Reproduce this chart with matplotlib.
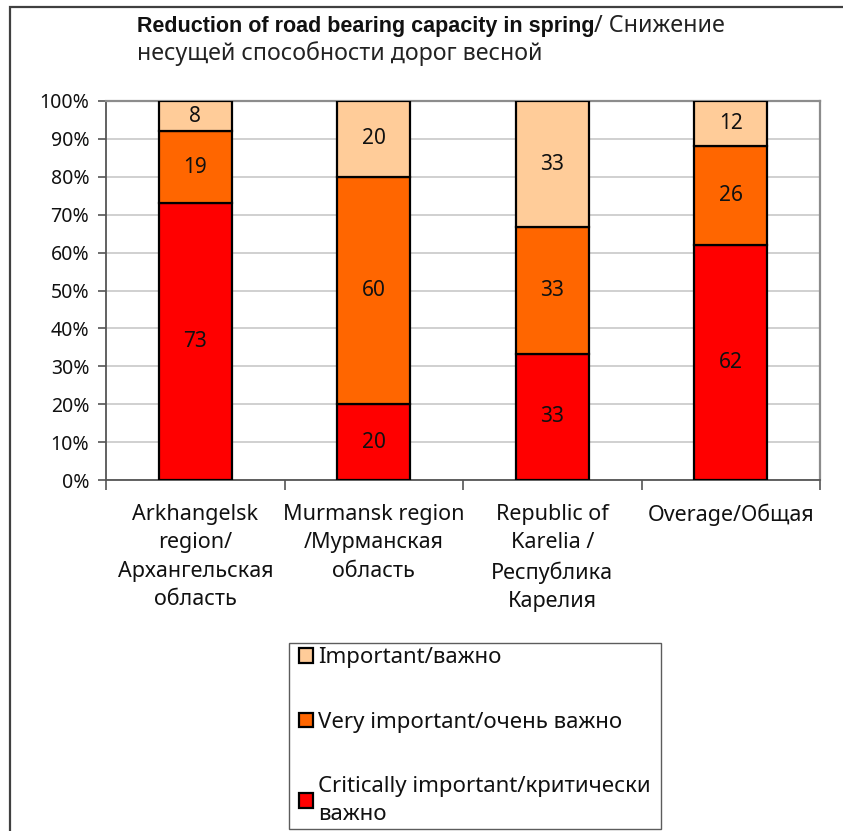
import matplotlib
matplotlib.use("Agg")
import matplotlib.pyplot as plt
import numpy as np
from matplotlib.patches import Rectangle, Patch
from matplotlib.legend_handler import HandlerPatch

plt.rcParams['font.family'] = ['Noto Sans', 'DejaVu Sans']

categories = [
    "Arkhangelsk\nregion/\nАрхангельская\nобласть",
    "Murmansk region\n/Мурманская\nобласть",
    "Republic of\nKarelia /\nРеспублика\nКарелия",
    "Overage/Общая",
]
critical = [73, 20, 33, 62]
very_important = [19, 60, 33, 26]
important = [8, 20, 33, 12]
series_names = ["Critically important/критически\nважно",
                "Very important/очень важно",
                "Important/важно"]
series_colors = ["#FF0000", "#FF6600", "#FFCC99"]
yticks = [0, 10, 20, 30, 40, 50, 60, 70, 80, 90, 100]

W, H = 843, 831
fig = plt.figure(figsize=(W / 100, H / 100), dpi=100)

# outer chart frame
fig.add_artist(Rectangle((10 / W, -0.05), 1.2, 1 - 7 / H + 0.05,
                         transform=fig.transFigure, fill=False,
                         edgecolor="#404040", linewidth=1.6, clip_on=False))

ax = fig.add_axes([106 / W, 1 - 480 / H, (820 - 106) / W, (480 - 101) / H])

series = np.array([critical, very_important, important], dtype=float)
totals = series.sum(axis=0)
shares = series / totals * 100

x = np.arange(len(categories))
bottom = np.zeros(len(categories))
for vals, pct, color in zip(series, shares, series_colors):
    ax.bar(x, pct, bottom=bottom, width=0.41, color=color,
           edgecolor="black", linewidth=1.6, zorder=3)
    for xi, b, p, v in zip(x, bottom, pct, vals):
        ax.text(xi, b + p / 2, f"{int(v)}", ha="center", va="center",
                fontsize=15, color="#111111", zorder=4)
    bottom += pct

ax.set_xlim(-0.5, len(categories) - 0.5)
ax.set_ylim(0, 100)
ax.set_yticks(yticks)
ax.set_yticklabels([f"{t}%" for t in yticks], fontsize=14, color="#111111")
ax.yaxis.grid(True, color="#c8c8c8", linewidth=1.2, zorder=0)
ax.set_axisbelow(True)

ax.set_xticks(x)
ax.set_xticklabels(categories, fontsize=15.5, color="#111111", linespacing=1.47,
                   va="top")
ax.tick_params(axis="x", which="major", length=0, pad=17)
ax.set_xticks(np.arange(len(categories) + 1) - 0.5, minor=True)
ax.tick_params(axis="x", which="minor", length=7, width=1.2, color="#555555")
ax.tick_params(axis="y", length=6, width=1.2, color="#555555", pad=6)

for side in ("left", "bottom"):
    ax.spines[side].set_color("#555555")
    ax.spines[side].set_linewidth(1.3)
for side in ("top", "right"):
    ax.spines[side].set_color("#8c8c8c")
    ax.spines[side].set_linewidth(1.6)

# title: bold English part followed by regular Russian part
t1 = fig.text(137 / W, 1 - 32 / H, "Reduction of road bearing capacity in spring",
              fontsize=15.5, fontweight="bold", family=["Liberation Sans", "DejaVu Sans"],
              color="#111111", va="baseline")
fig.canvas.draw()
bb = t1.get_window_extent()
fig.text(bb.x1 / W, 1 - 32 / H, "/ Снижение", fontsize=16.8,
         color="#222222", va="baseline")
fig.text(137 / W, 1 - 60 / H, "несущей способности дорог весной",
         fontsize=16.7, color="#222222", va="baseline")


def square_key(legend, orig_handle, xdescent, ydescent, width, height, fontsize):
    # square swatch pushed to the right end of the handle box
    return Rectangle((width - height - xdescent, -ydescent), height, height)


handles = [Patch(facecolor=c, edgecolor="black", linewidth=1.6)
           for c in series_colors[::-1]]
leg = fig.legend(handles, series_names[::-1],
                 loc="upper left",
                 bbox_to_anchor=(289 / W, 0, (661 - 289) / W, 1 - 643 / H),
                 mode="expand", borderaxespad=0, fontsize=16,
                 handlelength=0.9, handleheight=0.62, handletextpad=0.2,
                 labelspacing=1.95, borderpad=0.2, frameon=True,
                 fancybox=False, edgecolor="#333333",
                 handler_map={Patch: HandlerPatch(patch_func=square_key)})
leg.get_frame().set_linewidth(1.0)
for t in leg.get_texts():
    t.set_linespacing(1.4)
    t.set_color("#111111")

fig.savefig("out.png", dpi=100)
